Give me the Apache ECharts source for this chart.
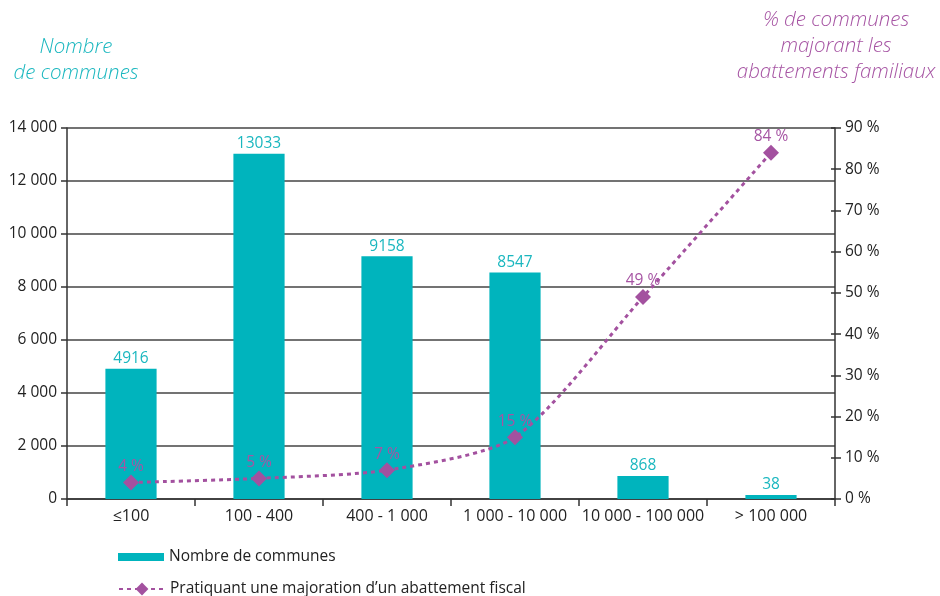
<!DOCTYPE html>
<html>
<head>
<meta charset="utf-8">
<script src="https://cdn.jsdelivr.net/npm/echarts@6/dist/echarts.min.js"></script>
<style>
  html, body { margin: 0; padding: 0; background: #fff; }
  #chart { width: 940px; height: 596px; }
</style>
</head>
<body>
<div id="chart"></div>
<script>
const categories = ['≤100', '100 - 400', '400 - 1 000', '1 000 - 10 000', '10 000 - 100 000', '> 100 000'];
const communes = [4916, 13033, 9158, 8547, 868, 38];
const pctMajoration = [4, 5, 7, 15, 49, 84];

const TEAL = '#00b4bd';
const PURPLE = '#a3519f';
const FONT = '"Open Sans", "Noto Sans", sans-serif';
const BAR_NAME = 'Nombre de communes';
const LINE_NAME = "Pratiquant une majoration d\u2019un abattement fiscal";

const fmtThousands = (v) => String(v).replace(/\B(?=(\d{3})+(?!\d))/g, ' ');

const chart = echarts.init(document.getElementById('chart'));

const option = {
    backgroundColor: '#fff',
    textStyle: { fontFamily: FONT },
    graphic: [
        { type: 'text', style: { text: 'Nombre\nde communes', x: 76, y: 34, textAlign: 'center', fill: '#1ab7bf', font: 'italic 300 20.5px ' + FONT, lineHeight: 26 } },
        { type: 'text', style: { text: '% de communes\nmajorant les\nabattements familiaux', x: 836, y: 7, textAlign: 'center', fill: '#a654a3', font: 'italic 300 20.5px ' + FONT, lineHeight: 26 } }
    ],
    legend: [
        {
            left: 113, top: 544, itemWidth: 46, itemHeight: 8,
            textStyle: { color: '#222', fontSize: 15.5, fontFamily: FONT },
            data: [{ name: BAR_NAME, icon: 'rect' }]
        },
        {
            left: 113, top: 576, itemWidth: 46, itemHeight: 16,
            textStyle: { color: '#222', fontSize: 15.5, fontFamily: FONT },
            data: [{ name: LINE_NAME }]
        }
    ],
    grid: { left: 67, right: 105, top: 128, bottom: 97 },
    xAxis: {
        type: 'category',
        data: categories,
        axisLine: { lineStyle: { color: '#333', width: 1.5 } },
        axisTick: { show: true, interval: 0, length: 7, lineStyle: { color: '#333', width: 1.5 } },
        axisLabel: { interval: 0, color: '#222', fontSize: 16, margin: 9, fontFamily: FONT }
    },
    yAxis: [
        {
            type: 'value', min: 0, max: 14000, interval: 2000,
            axisLine: { show: true, lineStyle: { color: '#333', width: 1.5 } },
            axisTick: { show: true, length: 6, lineStyle: { color: '#333', width: 1.5 } },
            axisLabel: { color: '#222', fontSize: 15.5, margin: 10, fontFamily: FONT, formatter: fmtThousands },
            splitLine: { lineStyle: { color: '#444', width: 1.5 } }
        },
        {
            type: 'value', min: 0, max: 90, interval: 10, position: 'right',
            axisLine: { show: true, lineStyle: { color: '#333', width: 1.5 } },
            axisTick: { show: true, length: 6, lineStyle: { color: '#333', width: 1.5 } },
            axisLabel: { color: '#222', fontSize: 15.5, margin: 10, fontFamily: FONT, formatter: '{value} %' },
            splitLine: { show: false }
        },
        {
            type: 'value', min: 0, max: 90, interval: 10, position: 'right',
            axisLine: { show: false },
            axisTick: { show: true, inside: true, length: 4, lineStyle: { color: '#333', width: 1.5 } },
            axisLabel: { show: false },
            splitLine: { show: false }
        }
    ],
    series: [
        {
            name: BAR_NAME,
            type: 'bar',
            data: communes,
            barWidth: '40%',
            barMinHeight: 4,
            itemStyle: { color: TEAL },
            label: { show: true, position: 'top', color: '#1ab7bf', fontSize: 15.5, distance: 2, fontFamily: FONT },
            z: 2
        },
        {
            name: LINE_NAME,
            type: 'line',
            yAxisIndex: 1,
            data: pctMajoration,
            smooth: 0.25,
            symbol: 'diamond',
            symbolSize: 16,
            lineStyle: { color: PURPLE, width: 3, type: [4, 4] },
            itemStyle: { color: PURPLE },
            label: { show: true, position: 'top', color: '#a654a3', fontSize: 15.5, distance: 0, fontFamily: FONT, formatter: '{c} %' },
            z: 3
        }
    ]
};

chart.setOption(option);
</script>
</body>
</html>
